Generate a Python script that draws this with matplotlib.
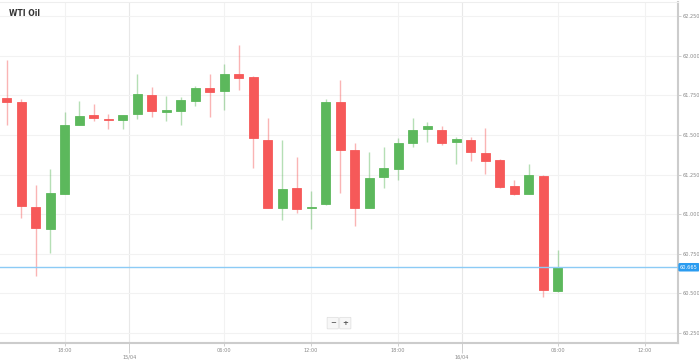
import numpy as np
import matplotlib.pyplot as plt
from matplotlib.patches import FancyBboxPatch

# hourly candles, WTI Oil
opens  = [61.734, 61.706, 61.048, 60.908, 61.126, 61.566, 61.625, 61.602, 61.597, 61.633,
          61.753, 61.644, 61.650, 61.713, 61.797, 61.780, 61.887, 61.864, 61.470, 61.038,
          61.168, 61.038, 61.063, 61.706, 61.403, 61.038, 61.237, 61.287, 61.447, 61.537,
          61.530, 61.457, 61.467, 61.386, 61.342, 61.180, 61.126, 61.243, 60.514]
highs  = [61.971, 61.727, 61.184, 61.287, 61.644, 61.713, 61.698, 61.635, 61.625, 61.887,
          61.803, 61.748, 61.740, 61.807, 61.887, 61.950, 62.069, 61.870, 61.608, 61.468,
          61.363, 61.147, 61.727, 61.849, 61.451, 61.392, 61.426, 61.482, 61.608, 61.583,
          61.556, 61.488, 61.488, 61.545, 61.346, 61.214, 61.314, 61.247, 60.774]
lows   = [61.560, 60.975, 60.608, 60.755, 61.126, 61.566, 61.591, 61.541, 61.541, 61.602,
          61.612, 61.587, 61.560, 61.681, 61.612, 61.660, 61.786, 61.289, 61.042, 60.964,
          61.010, 60.906, 61.059, 61.136, 60.927, 61.038, 61.164, 61.216, 61.423, 61.457,
          61.440, 61.317, 61.335, 61.256, 61.168, 61.122, 61.126, 60.480, 60.507]
closes = [61.709, 61.052, 60.912, 61.132, 61.560, 61.618, 61.606, 61.593, 61.625, 61.759,
          61.650, 61.656, 61.719, 61.795, 61.774, 61.883, 61.857, 61.478, 61.042, 61.161,
          61.034, 61.042, 61.711, 61.405, 61.042, 61.231, 61.293, 61.451, 61.530, 61.556,
          61.451, 61.476, 61.392, 61.335, 61.174, 61.126, 61.247, 60.522, 60.665]
last_price = 60.665

time_pos = [4, 15, 21, 27, 38, 44]
time_labels = ['18:00', '06:00', '12:00', '18:00', '06:00', '12:00']
date_pos = [8.46, 31.4]
date_labels = ['15/04', '16/04']
y_ticks = [60.25, 60.5, 60.75, 61.0, 61.25, 61.5, 61.75, 62.0, 62.25]

red = '#f65959'
green = '#5cb85c'

fig = plt.figure(figsize=(6.99, 3.61), dpi=100)
ax = fig.add_axes([0.0, 0.05, 0.970, 0.945])

o = np.array(opens); c = np.array(closes)
h = np.array(highs); l = np.array(lows)
x = np.arange(len(o))
up = c >= o
cols = np.where(up, green, red)

ax.vlines(x, l, h, colors=cols, linewidth=1, alpha=0.45, zorder=2)
bottoms = np.minimum(o, c)
heights = np.maximum(np.abs(c - o), 0.008)
ax.bar(x, heights, bottom=bottoms, width=0.62, color=cols, edgecolor=cols,
       linewidth=0.6, zorder=3)

ax.axhline(last_price, color='#8ccbf5', linewidth=1, zorder=4)

ax.set_xlim(-0.46, 46.3)
ax.set_ylim(60.187, 62.341)

ax.set_yticks(y_ticks)
ax.set_yticklabels(['%.3f' % v for v in y_ticks])
ax.yaxis.tick_right()
ax.tick_params(axis='y', labelsize=3.6, labelcolor='#888888', color='#bbbbbb',
               length=2, width=0.5, pad=1)

ax.set_xticks(time_pos)
ax.set_xticklabels(time_labels)
ax.set_xticks(date_pos, minor=True)
ax.set_xticklabels(date_labels, minor=True)
ax.tick_params(axis='x', which='major', labelsize=3.6, labelcolor='#888888',
               color='#bbbbbb', length=2, width=0.5, pad=1.5)
ax.tick_params(axis='x', which='minor', labelsize=3.6, labelcolor='#888888',
               color='#bbbbbb', length=7, width=0.5, pad=1)

ax.grid(True, which='major', color='#f2f2f2', linewidth=0.8, zorder=0)
ax.grid(True, which='minor', axis='x', color='#e8e8e8', linewidth=0.8, zorder=0)
ax.set_axisbelow(True)

ax.spines['left'].set_visible(False)
ax.spines['top'].set_color('#eeeeee')
ax.spines['top'].set_linewidth(0.8)
for s in ['right', 'bottom']:
    ax.spines[s].set_color('#cccccc')
    ax.spines[s].set_linewidth(1.5)

# price flag on the right axis
ax.text(1.003, last_price, '%.3f' % last_price, transform=ax.get_yaxis_transform(),
        fontsize=3.6, color='white', va='center', ha='left', zorder=6, clip_on=False,
        bbox=dict(boxstyle='round,pad=0.35,rounding_size=0.3', fc='#2b9cf0', ec='none'))

fig.text(0.013, 0.962, 'WTI Oil', fontsize=5.5, fontweight='bold', color='#333333',
         va='center', ha='left')

# zoom buttons
for bx, sym in [(0.476, '\u2212'), (0.494, '+')]:
    fig.patches.append(FancyBboxPatch((bx - 0.007, 0.090), 0.014, 0.030,
                                      boxstyle='round,pad=0.001', transform=fig.transFigure,
                                      fc='#f7f7f7', ec='#dddddd', linewidth=0.5))
    fig.text(bx, 0.105, sym, fontsize=5, fontweight='bold', color='#555555',
             ha='center', va='center')

fig.savefig('out.png', dpi=100)
